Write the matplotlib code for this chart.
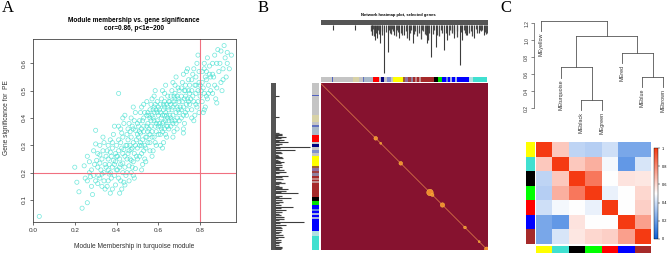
import numpy as np
import matplotlib
matplotlib.use('Agg')
import matplotlib.pyplot as plt
from matplotlib.colors import LinearSegmentedColormap, ListedColormap

plt.rcParams['font.family'] = ['Liberation Sans', 'DejaVu Sans']

# ---- panel A : module membership vs gene significance (turquoise) ----
mm_gs = [
    (0.03, 0.04), (0.20, 0.22), (0.21, 0.165), (0.235, 0.07), (0.26, 0.09), (0.245, 0.225), (0.22, 0.13), (0.25, 0.18),
    (0.26, 0.17), (0.27, 0.2), (0.28, 0.15), (0.27, 0.24), (0.29, 0.19), (0.28, 0.21), (0.3, 0.355), (0.29, 0.28),
    (0.3, 0.17), (0.26, 0.26), (0.285, 0.12), (0.295, 0.23), (0.275, 0.185), (0.3, 0.305),
    (0.31, 0.22), (0.32, 0.18), (0.33, 0.25), (0.31, 0.27), (0.34, 0.2), (0.32, 0.3), (0.33, 0.15), (0.345, 0.23),
    (0.315, 0.19), (0.335, 0.28), (0.34, 0.17), (0.325, 0.21), (0.35, 0.26), (0.305, 0.245), (0.34, 0.31), (0.33, 0.195),
    (0.32, 0.235), (0.345, 0.14), (0.31, 0.16), (0.35, 0.22), (0.335, 0.33), (0.32, 0.265),
    (0.36, 0.25), (0.37, 0.2), (0.38, 0.29), (0.36, 0.17), (0.39, 0.23), (0.37, 0.32), (0.38, 0.14), (0.395, 0.27),
    (0.36, 0.21), (0.375, 0.26), (0.39, 0.19), (0.385, 0.34), (0.365, 0.23), (0.4, 0.3), (0.37, 0.125), (0.38, 0.22),
    (0.395, 0.155), (0.355, 0.28), (0.39, 0.37), (0.375, 0.18), (0.36, 0.3), (0.385, 0.245), (0.4, 0.21), (0.37, 0.275),
    (0.38, 0.31), (0.365, 0.195), (0.395, 0.24), (0.355, 0.15), (0.4, 0.26),
    (0.41, 0.49), (0.41, 0.28), (0.42, 0.23), (0.43, 0.33), (0.41, 0.18), (0.44, 0.26), (0.42, 0.36), (0.43, 0.2),
    (0.445, 0.3), (0.415, 0.25), (0.425, 0.14), (0.435, 0.38), (0.44, 0.22), (0.41, 0.32), (0.43, 0.27), (0.42, 0.17),
    (0.45, 0.34), (0.405, 0.21), (0.435, 0.165), (0.44, 0.41), (0.425, 0.29), (0.415, 0.125), (0.45, 0.25), (0.43, 0.235),
    (0.42, 0.31), (0.445, 0.19), (0.41, 0.37), (0.435, 0.285), (0.45, 0.2), (0.425, 0.345), (0.44, 0.155), (0.405, 0.26),
    (0.43, 0.4), (0.415, 0.22), (0.45, 0.3),
    (0.46, 0.28), (0.47, 0.33), (0.48, 0.24), (0.46, 0.38), (0.49, 0.3), (0.47, 0.2), (0.48, 0.36), (0.465, 0.25),
    (0.49, 0.42), (0.475, 0.29), (0.46, 0.17), (0.485, 0.27), (0.5, 0.34), (0.47, 0.4), (0.48, 0.19), (0.495, 0.26),
    (0.455, 0.32), (0.47, 0.245), (0.49, 0.355), (0.48, 0.31), (0.465, 0.35), (0.5, 0.29), (0.475, 0.22), (0.455, 0.27),
    (0.49, 0.215), (0.485, 0.39), (0.46, 0.225), (0.5, 0.38), (0.47, 0.285), (0.48, 0.44), (0.495, 0.32), (0.465, 0.3),
    (0.485, 0.18), (0.5, 0.25), (0.455, 0.36), (0.475, 0.37),
    (0.51, 0.35), (0.52, 0.3), (0.53, 0.4), (0.51, 0.26), (0.54, 0.33), (0.52, 0.44), (0.53, 0.28), (0.545, 0.37),
    (0.515, 0.31), (0.525, 0.23), (0.535, 0.42), (0.54, 0.29), (0.51, 0.39), (0.53, 0.35), (0.52, 0.21), (0.55, 0.38),
    (0.505, 0.33), (0.535, 0.25), (0.545, 0.46), (0.525, 0.32), (0.515, 0.42), (0.55, 0.31), (0.53, 0.37), (0.52, 0.27),
    (0.545, 0.41), (0.51, 0.3), (0.535, 0.3), (0.55, 0.35), (0.525, 0.39), (0.54, 0.24), (0.505, 0.37), (0.53, 0.45),
    (0.515, 0.345), (0.55, 0.42), (0.52, 0.36), (0.545, 0.33),
    (0.56, 0.4), (0.57, 0.35), (0.58, 0.44), (0.56, 0.31), (0.59, 0.38), (0.57, 0.47), (0.58, 0.33), (0.595, 0.42),
    (0.565, 0.37), (0.575, 0.28), (0.585, 0.5), (0.59, 0.35), (0.56, 0.43), (0.58, 0.39), (0.57, 0.26), (0.6, 0.41),
    (0.555, 0.36), (0.585, 0.31), (0.595, 0.46), (0.575, 0.4), (0.565, 0.45), (0.6, 0.37), (0.58, 0.42), (0.57, 0.33),
    (0.595, 0.39), (0.56, 0.34), (0.585, 0.37), (0.6, 0.44), (0.575, 0.43), (0.59, 0.3), (0.555, 0.41), (0.58, 0.48),
    (0.565, 0.39), (0.6, 0.34), (0.57, 0.41), (0.59, 0.43), (0.56, 0.28), (0.585, 0.45),
    (0.61, 0.42), (0.62, 0.38), (0.63, 0.46), (0.61, 0.34), (0.64, 0.41), (0.62, 0.5), (0.63, 0.36), (0.645, 0.44),
    (0.615, 0.4), (0.625, 0.31), (0.635, 0.52), (0.64, 0.37), (0.61, 0.45), (0.63, 0.41), (0.62, 0.29), (0.65, 0.43),
    (0.605, 0.38), (0.635, 0.34), (0.645, 0.48), (0.625, 0.43), (0.615, 0.47), (0.65, 0.39), (0.63, 0.44), (0.62, 0.35),
    (0.645, 0.4), (0.61, 0.37), (0.635, 0.39), (0.65, 0.46), (0.625, 0.45), (0.64, 0.33), (0.605, 0.43), (0.63, 0.49),
    (0.615, 0.36), (0.65, 0.36), (0.62, 0.41), (0.64, 0.45), (0.61, 0.3), (0.635, 0.42), (0.625, 0.385), (0.645, 0.37),
    (0.66, 0.45), (0.67, 0.41), (0.68, 0.49), (0.66, 0.37), (0.69, 0.44), (0.67, 0.53), (0.68, 0.39), (0.695, 0.47),
    (0.665, 0.43), (0.675, 0.35), (0.685, 0.55), (0.69, 0.4), (0.66, 0.48), (0.68, 0.45), (0.67, 0.33), (0.7, 0.46),
    (0.655, 0.41), (0.685, 0.38), (0.695, 0.51), (0.675, 0.46), (0.665, 0.5), (0.7, 0.42), (0.68, 0.47), (0.67, 0.38),
    (0.695, 0.43), (0.66, 0.4), (0.685, 0.42), (0.7, 0.5), (0.675, 0.48), (0.69, 0.36), (0.655, 0.46), (0.68, 0.52),
    (0.665, 0.39), (0.7, 0.39), (0.67, 0.44), (0.69, 0.48), (0.72, 0.345),
    (0.71, 0.48), (0.72, 0.44), (0.73, 0.52), (0.71, 0.4), (0.74, 0.47), (0.72, 0.56), (0.73, 0.42), (0.745, 0.5),
    (0.715, 0.46), (0.725, 0.38), (0.735, 0.57), (0.74, 0.43), (0.71, 0.51), (0.73, 0.48), (0.72, 0.36), (0.75, 0.49),
    (0.705, 0.44), (0.735, 0.41), (0.745, 0.54), (0.725, 0.5), (0.715, 0.53), (0.75, 0.45), (0.73, 0.5), (0.72, 0.41),
    (0.745, 0.46), (0.71, 0.43), (0.74, 0.58), (0.75, 0.52), (0.725, 0.47), (0.735, 0.45),
    (0.76, 0.5), (0.77, 0.46), (0.78, 0.55), (0.76, 0.43), (0.79, 0.5), (0.77, 0.58), (0.78, 0.45), (0.795, 0.53),
    (0.765, 0.48), (0.775, 0.41), (0.785, 0.6), (0.79, 0.46), (0.76, 0.54), (0.78, 0.52), (0.77, 0.39), (0.8, 0.52),
    (0.755, 0.47), (0.785, 0.44), (0.795, 0.57), (0.775, 0.52), (0.765, 0.56), (0.8, 0.48), (0.78, 0.49), (0.79, 0.63),
    (0.76, 0.4), (0.795, 0.42),
    (0.81, 0.53), (0.82, 0.49), (0.83, 0.57), (0.81, 0.46), (0.84, 0.52), (0.82, 0.6), (0.83, 0.48), (0.845, 0.56),
    (0.815, 0.51), (0.825, 0.44), (0.835, 0.62), (0.84, 0.49), (0.81, 0.57), (0.83, 0.54), (0.82, 0.43), (0.85, 0.55),
    (0.805, 0.5), (0.835, 0.47), (0.845, 0.59), (0.825, 0.55), (0.815, 0.42), (0.85, 0.5), (0.82, 0.58),
    (0.86, 0.56), (0.87, 0.52), (0.88, 0.6), (0.86, 0.49), (0.89, 0.57), (0.87, 0.63), (0.88, 0.51), (0.895, 0.6),
    (0.865, 0.55), (0.875, 0.47), (0.885, 0.65), (0.9, 0.53), (0.91, 0.58), (0.92, 0.62), (0.93, 0.6), (0.91, 0.54),
    (0.9, 0.645), (0.94, 0.58), (0.925, 0.55), (0.905, 0.5), (0.95, 0.63), (0.93, 0.64), (0.915, 0.665), (0.88, 0.455),
    (0.86, 0.6),
]
mm = [p[0] for p in mm_gs]
gs = [p[1] for p in mm_gs]

# ---- panel B : TOM heatmap ----
# module colour bar segments along the gene order (colour, relative width)
bar_colors = ['#C4C4C4', '#5060C0', '#C4C4C4', '#D8D2A6', '#C4C4C4', '#6070C0', '#A8B8C8', '#FF0000',
              '#C4C4C4', '#000080', '#C4C4C4', '#8090D0', '#C4C4C4', '#FFFF00', '#A06030', '#9070A0',
              '#A04040', '#9080A0', '#A52A2A', '#C08080', '#A52A2A', '#C09090', '#A52A2A', '#000000',
              '#00E000', '#0000FF', '#6080E0', '#0000FF', '#A0B0E0', '#0000FF', '#A0B0E0', '#0000FF',
              '#B0E0E0', '#40E0D0']
bar_widths = [34, 4, 58, 20, 10, 4, 26, 20, 6, 8, 10, 10, 8, 30, 6, 8, 8, 8, 6, 6, 4, 6, 40, 12,
              12, 12, 6, 6, 6, 8, 6, 36, 14, 42]

# gene tree: long branches (position, depth) and the short bushy fringe
drop_pos = [0.074, 0.205, 0.31, 0.325, 0.34, 0.355, 0.38, 0.403, 0.44, 0.47, 0.50, 0.53, 0.555,
            0.635, 0.661, 0.69, 0.74, 0.76, 0.80, 0.835, 0.85, 0.88, 0.92, 0.95, 0.98]
drop_depth = [0.1, 0.1, 0.2, 0.3, 0.25, 0.35, 0.94, 0.53, 0.2, 0.25, 0.2, 0.3, 0.35,
              0.35, 0.63, 0.43, 0.49, 0.3, 0.25, 0.78, 0.3, 0.2, 0.25, 0.15, 0.2]
fringe_pos = [0.30, 0.305, 0.315, 0.32, 0.33, 0.345, 0.35, 0.365, 0.37, 0.39, 0.41, 0.415, 0.42,
              0.43, 0.435, 0.45, 0.46, 0.465, 0.48, 0.49, 0.51, 0.515, 0.52, 0.535, 0.54, 0.56, 0.565,
              0.575, 0.59, 0.60, 0.605, 0.615, 0.625, 0.63, 0.645, 0.65, 0.675, 0.68, 0.70, 0.71, 0.72,
              0.73, 0.75, 0.77, 0.775, 0.785, 0.79, 0.80, 0.815, 0.82, 0.84, 0.86, 0.865, 0.87, 0.89,
              0.90, 0.91, 0.93, 0.94, 0.955, 0.96, 0.97, 0.985, 0.99, 0.997]
fringe_depth = [0.12, 0.2, 0.08, 0.22, 0.15, 0.1, 0.18, 0.2, 0.12, 0.14, 0.1, 0.16, 0.18,
                0.08, 0.12, 0.22, 0.09, 0.14, 0.16, 0.2, 0.12, 0.1, 0.25, 0.15, 0.1, 0.18, 0.12,
                0.22, 0.15, 0.28, 0.1, 0.12, 0.18, 0.2, 0.3, 0.15, 0.18, 0.1, 0.2, 0.22, 0.1,
                0.15, 0.15, 0.2, 0.1, 0.12, 0.16, 0.18, 0.24, 0.12, 0.14, 0.1, 0.15, 0.2, 0.16,
                0.12, 0.22, 0.08, 0.15, 0.1, 0.12, 0.1, 0.14, 0.18, 0.15]

# bright spots on the TOM diagonal
blob_pos = [0.33, 0.36, 0.48, 0.655, 0.67, 0.73, 0.865, 0.95, 0.995]
blob_size = [7, 2, 7, 22, 5, 10, 4, 2, 10]

# ---- panel C : eigengene dendrogram and adjacency ----
me_names = ['MEyellow', 'MEturquoise', 'MEblack', 'MEgreen', 'MEred', 'MEblue', 'MEbrown']
me_colors = ['#FFFF00', '#40E0D0', '#000000', '#00FF00', '#FF0000', '#0000FF', '#A52A2A']
# hclust style merges: negative = leaf index (1-based), positive = earlier merge
me_merge = [(-3, -4), (-6, -7), (-2, 1), (-5, 2), (3, 4), (-1, 5)]
me_height = [0.30, 0.57, 0.68, 0.847, 1.05, 1.23]
me_adj = np.array([
    [1.00, 0.64, 0.37, 0.35, 0.40, 0.23, 0.23],
    [0.64, 1.00, 0.64, 0.70, 0.48, 0.18, 0.42],
    [0.37, 0.64, 1.00, 0.84, 0.50, 0.57, 0.56],
    [0.35, 0.70, 0.84, 1.00, 0.46, 0.50, 0.60],
    [0.40, 0.48, 0.50, 0.46, 1.00, 0.50, 0.62],
    [0.23, 0.18, 0.57, 0.50, 0.50, 1.00, 0.74],
    [0.23, 0.42, 0.56, 0.60, 0.62, 0.74, 1.00],
])

W, H = 669, 254
fig = plt.figure(figsize=(W / 100, H / 100), dpi=100)


def box(x0, y0, x1, y1):
    return fig.add_axes([x0 / W, 1 - y1 / H, (x1 - x0) / W, (y1 - y0) / H])


def bare(ax):
    ax.set_xticks([])
    ax.set_yticks([])
    for s in ax.spines.values():
        s.set_visible(False)


# panel letters
for lab, x in [('A', 8), ('B', 263), ('C', 506)]:
    fig.text(x / W, 1 - 8 / H, lab, family='Liberation Serif', fontsize=12, ha='center', va='center')

# ================= A =================
ax = box(33, 39, 236, 222)
ax.scatter(mm, gs, s=9, facecolors='none', edgecolors='#40E0D0', linewidths=0.5, alpha=0.75)
ax.axvline(0.8, color='#F07080', lw=0.8)
ax.axhline(0.2, color='#F07080', lw=0.8)
ax.set_xlim(0, 0.972)
ax.set_ylim(0.0195, 0.689)
ax.set_xticks([0, 0.2, 0.4, 0.6, 0.8])
ax.set_xticklabels(['0.0', '0.2', '0.4', '0.6', '0.8'])
ax.set_yticks([0.1, 0.2, 0.3, 0.4, 0.5, 0.6])
ax.set_yticklabels(['0.1', '0.2', '0.3', '0.4', '0.5', '0.6'], rotation=90, va='center')
ax.tick_params(length=2.5, width=0.5, labelsize=4.6, pad=2, color='#333333', labelcolor='#333333')
for s in ax.spines.values():
    s.set_linewidth(0.6)
    s.set_color('#444444')
fig.text(134 / W, 1 - 21 / H, 'Module membership vs. gene significance', fontsize=4.7,
         weight='bold', ha='center', va='center')
fig.text(134 / W, 1 - 29 / H, 'cor=0.86, p<1e\u2212200', fontsize=4.7, weight='bold', ha='center', va='center')
fig.text(134 / W, 1 - 247 / H, 'Module Membership in turquoise module', fontsize=4.8,
         ha='center', va='center', color='#333333')
fig.text(7 / W, 1 - 118 / H, 'Gene significance for  PE', fontsize=4.8, rotation=90,
         ha='center', va='center', color='#333333')

# ================= B =================
bx0, bx1, by0, by1 = 320.7, 487.5, 83.3, 250
cum = np.concatenate([[0], np.cumsum(bar_widths)[:-1]]) / np.sum(bar_widths)
wid = np.array(bar_widths) / np.sum(bar_widths)

hm = box(bx0, by0, bx1, by1)
hm.set_facecolor('#86122F')
hm.plot([0, 1], [0, 1], color='#E0804A', lw=0.5)
hm.scatter(blob_pos, blob_pos, s=blob_size, color='#F08A30', edgecolors='#FFD040', linewidths=0.3, zorder=3)
hm.set_xlim(0, 1)
hm.set_ylim(1, 0)
bare(hm)

tb = box(bx0, 76.7, bx1, 81.7)
tb.barh(0, wid, left=cum, height=1, color=bar_colors)
tb.set_xlim(0, 1)
tb.set_ylim(-0.5, 0.5)
bare(tb)

lb = box(312.3, by0, 319, by1)
lb.bar(0, wid, bottom=cum, width=1, color=bar_colors)
lb.set_ylim(1, 0)
lb.set_xlim(-0.5, 0.5)
bare(lb)

tree_col = '#4A4A4A'
# top gene tree
td = box(bx0, 18, bx1, 76)
td.fill_between([0.0, 1.0], -0.1, 0.01, color='#555555', lw=0)
td.vlines(fringe_pos, 0, fringe_depth, color=tree_col, lw=0.9)
td.vlines(drop_pos, 0, drop_depth, color='#3C3C3C', lw=0.8)
td.set_xlim(0, 1)
td.set_ylim(1.0, -0.137)
bare(td)
fig.text(398 / W, 1 - 15 / H, 'Network heatmap plot, selected genes', fontsize=3,
         weight='bold', ha='center', va='center')

# left gene tree
ld = box(268, by0, 312, by1)
ld.fill_betweenx([0.0, 1.0], -0.12, 0.02, color='#555555', lw=0)
ld.hlines(fringe_pos, 0, fringe_depth, color=tree_col, lw=0.9)
ld.hlines(drop_pos, 0, drop_depth, color='#3C3C3C', lw=0.8)
ld.set_ylim(1, 0)
ld.set_xlim(-0.19, 1.0)
bare(ld)

# ================= C =================
hang = 0.12
dd = box(534, 18, 669, 125)
node_x, node_h = {}, {}
for i, ((a, b), h) in enumerate(zip(me_merge, me_height), start=1):
    xs = []
    for c in (a, b):
        if c < 0:
            cx, ch = -c, h - hang
            dd.text(cx, ch - 0.02, me_names[-c - 1], rotation=90, ha='center', va='top',
                    fontsize=3.9, color='#333333', clip_on=False)
        else:
            cx, ch = node_x[c], node_h[c]
        dd.plot([cx, cx], [ch, h], color='#555555', lw=0.6)
        xs.append(cx)
    dd.plot(xs, [h, h], color='#555555', lw=0.6)
    node_x[i] = np.mean(xs)
    node_h[i] = h
dd.set_xlim(0.67, 7.31)
dd.set_ylim(0.0035, 1.262)
for s in ['top', 'right', 'bottom']:
    dd.spines[s].set_visible(False)
dd.spines['left'].set_bounds(0.2, 1.2)
dd.spines['left'].set_linewidth(0.5)
dd.spines['left'].set_color('#555555')
dd.set_xticks([])
dd.set_yticks([0.2, 0.4, 0.6, 0.8, 1.0, 1.2])
dd.set_yticklabels(['0.2', '0.4', '0.6', '0.8', '1.0', '1.2'], rotation=90, va='center')
dd.tick_params(length=2, width=0.5, labelsize=3.6, pad=1.5, color='#555555', labelcolor='#333333')
dd.patch.set_alpha(0)

cmap_c = LinearSegmentedColormap.from_list('bwr', ['#0A5FD8', '#FFFFFF', '#F53A12'])
hc = box(535.7, 142.3, 650, 244)
im = hc.imshow(me_adj, cmap=cmap_c, vmin=0, vmax=1, aspect='auto', interpolation='nearest')
bare(hc)

mod_cmap = ListedColormap(me_colors)
lc = box(525.7, 142.3, 534, 244)
lc.imshow(np.arange(7).reshape(7, 1), cmap=mod_cmap, vmin=-0.5, vmax=6.5, aspect='auto')
bare(lc)
bc = box(535.7, 246, 650, 253.3)
bc.imshow(np.arange(7).reshape(1, 7), cmap=mod_cmap, vmin=-0.5, vmax=6.5, aspect='auto')
bare(bc)

cax = box(654, 148, 658.3, 239)
cb = fig.colorbar(im, cax=cax)
cb.set_ticks([0, 0.2, 0.4, 0.6, 0.8, 1.0])
cb.set_ticklabels(['0', '0.2', '0.4', '0.6', '0.8', '1'])
cb.ax.tick_params(labelsize=2.8, length=1.5, width=0.3, pad=1)
cb.outline.set_linewidth(0.3)

fig.savefig('out.png', dpi=100)
